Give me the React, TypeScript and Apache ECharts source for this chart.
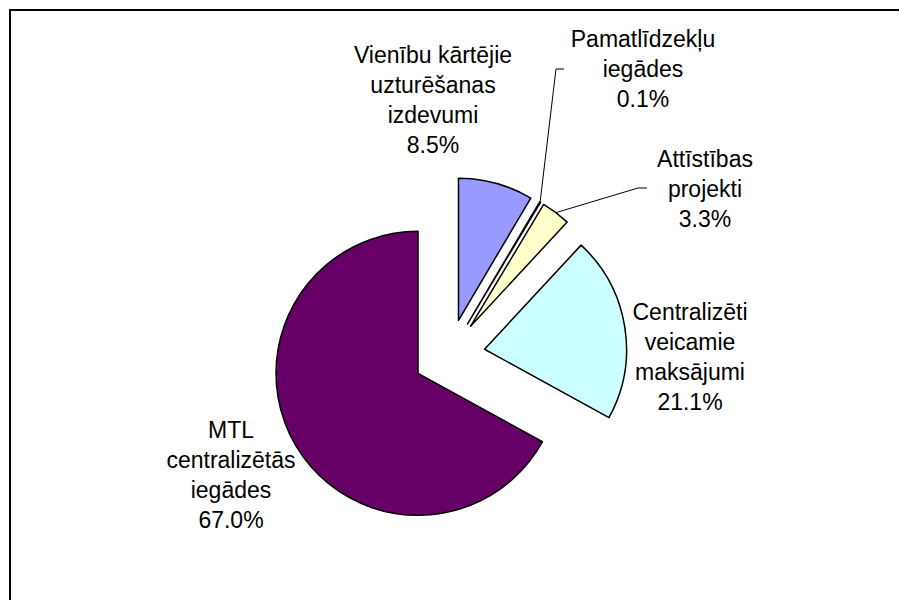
import React, { useEffect, useRef } from 'react';
import * as echarts from 'echarts';

// Categories (label text, with Excel-like line breaks)
const categories = [
  'Vienību kārtējie\nuzturēšanas\nizdevumi',
  'Pamatlīdzekļu\niegādes',
  'Attīstības\nprojekti',
  'Centralizēti\nveicamie\nmaksājumi',
  'MTL\ncentralizētās\niegādes',
];
// Shares in percent
const shares = [8.5, 0.1, 3.3, 21.1, 67.0];
const colors = ['#9999FF', '#993366', '#FFFFCC', '#CCFFFF', '#660066'];

// Layout constants (label block centres and leader line ends)
const labelCenters = [
  [433, 100],
  [643, 69],
  [705, 189],
  [690, 357],
  [231, 475],
];
const leaderEnds: (number[][] | null)[] = [
  null,
  [[556, 69], [564, 69]],
  [[638, 188], [647, 188]],
  null,
  null,
];

const CX = 449;
const CY = 355;
const R = 142;
const OFFSET = 36;
const FONT = '"Liberation Sans", Arial, sans-serif';

export default function App() {
  const ref = useRef<HTMLDivElement>(null);

  useEffect(() => {
    if (!ref.current) return;
    const chart = echarts.init(ref.current, undefined, { renderer: 'svg' });
    const total = shares.reduce((a, b) => a + b, 0);

    const labelTexts: any[] = categories.map((name, i) => ({
      type: 'text',
      x: labelCenters[i][0],
      y: labelCenters[i][1],
      silent: true,
      z: 10,
      style: {
        text: `${name}\n${shares[i].toFixed(1)}%`,
        fill: '#000',
        fontSize: 23,
        fontFamily: FONT,
        lineHeight: 30,
        align: 'center',
        verticalAlign: 'middle',
        textAlign: 'center',
        textVerticalAlign: 'middle',
      },
    }));

    const leaders: any[] = [];
    leaderEnds.forEach((ends, i) => {
      if (!ends) return;
      const before = shares.slice(0, i).reduce((a, b) => a + b, 0);
      const mid = ((before + shares[i] / 2) / total) * Math.PI * 2;
      const p0 = [CX + (R + OFFSET) * Math.sin(mid), CY - (R + OFFSET) * Math.cos(mid)];
      leaders.push({
        type: 'polyline',
        silent: true,
        z: 10,
        shape: { points: [p0, ends[0], ends[1]] },
        style: { stroke: '#000', lineWidth: 1, fill: 'none' },
      });
    });

    const option: any = {
      animation: false,
      backgroundColor: '#ffffff',
      graphic: [
        {
          type: 'rect',
          shape: { x: 10, y: 10, width: 1000, height: 1000 },
          style: { fill: 'none', stroke: '#000', lineWidth: 2 },
          silent: true,
          z: 0,
        },
        ...leaders,
        ...labelTexts,
      ],
      series: [
        {
          type: 'pie',
          center: [CX, CY],
          radius: [0, R],
          startAngle: 90,
          clockwise: true,
          selectedMode: 'multiple',
          selectedOffset: OFFSET,
          avoidLabelOverlap: false,
          emphasis: { disabled: true },
          itemStyle: { borderColor: '#000', borderWidth: 1.5 },
          select: { itemStyle: { borderColor: '#000', borderWidth: 1.5 } },
          label: { show: false },
          labelLine: { show: false },
          data: categories.map((name, i) => ({
            name,
            value: shares[i],
            selected: true,
            itemStyle: { color: colors[i] },
            select: { itemStyle: { color: colors[i] } },
          })),
        },
      ],
    };

    chart.setOption(option);
    return () => chart.dispose();
  }, []);

  return (
    <div
      ref={ref}
      style={{ position: 'fixed', left: 0, top: 0, width: 899, height: 600 }}
    />
  );
}
